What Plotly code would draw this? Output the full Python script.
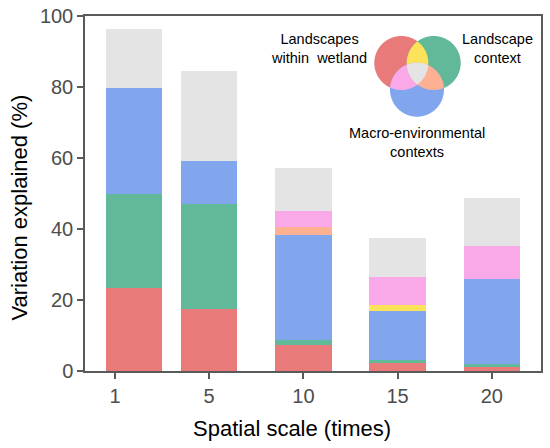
import numpy as np
import plotly.graph_objects as go

# spatial scale (times) and variation explained (%) per fraction
scales = ["1", "5", "10", "15", "20"]
within_wetland = [23.5, 17.6, 7.2, 2.3, 1.0]
landscape_context = [26.5, 29.4, 1.4, 0.9, 1.1]
macro_env = [29.7, 12.2, 29.7, 13.8, 23.9]
within_x_context = [0, 0, 0, 1.5, 0]
context_x_macro = [0, 0, 2.3, 0, 0]
within_x_macro = [0, 0, 4.4, 8.0, 9.1]
all_three = [16.5, 25.4, 12.3, 11.1, 13.5]

RED = "#E87B79"
GREEN = "#61B99A"
BLUE = "#82A6EE"
YELLOW = "#FCE35A"
ORANGE = "#FDB092"
PINK = "#F9A9E8"
GREY = "#E4E4E4"

FONT = "Arial, Liberation Sans, sans-serif"

series = [
    (within_wetland, RED),
    (landscape_context, GREEN),
    (macro_env, BLUE),
    (within_x_context, YELLOW),
    (context_x_macro, ORANGE),
    (within_x_macro, PINK),
    (all_three, GREY),
]

fig = go.Figure()
for vals, col in series:
    fig.add_trace(go.Bar(
        x=scales, y=vals,
        marker=dict(color=col, line=dict(width=0)),
        width=0.6,
        offset=[-0.1, -0.3, -0.3, -0.3, -0.3],  # first bar sits right of its tick in the original
        showlegend=False,
    ))

# plot area in pixels
W, H = 550, 448
L, R, T, B = 85, 541, 16, 371


def to_paper(px, py):
    return (px - L) / (R - L), (B - py) / (B - T)


def circle_pts(cx, cy, r, n=720):
    a = np.linspace(0, 2 * np.pi, n, endpoint=False)
    return np.c_[cx + r * np.cos(a), cy + r * np.sin(a)]


def inside(p, c):
    return np.hypot(p[:, 0] - c[0], p[:, 1] - c[1]) <= c[2] + 1e-9


def region(circs, all_pts):
    pts = []
    for i in range(len(circs)):
        p = all_pts[i]
        m = np.ones(len(p), bool)
        for j, o in enumerate(circs):
            if j != i:
                m &= inside(p, o)
        pts.append(p[m])
    pts = np.vstack(pts)
    ctr = pts.mean(axis=0)
    ang = np.arctan2(pts[:, 1] - ctr[1], pts[:, 0] - ctr[0])
    return pts[np.argsort(ang)]


def path_of(pts):
    s = []
    for k, (px, py) in enumerate(pts):
        x, y = to_paper(px, py)
        s.append(("M" if k == 0 else "L") + f"{x:.5f},{y:.5f}")
    return " ".join(s) + " Z"


rad = 27
c_red = (401.3, 63.0, rad)
c_green = (433.7, 63.0, rad)
c_blue = (417.0, 89.7, rad)


def add_region(circs, col):
    pts = [circle_pts(*c) for c in circs]
    poly = pts[0] if len(circs) == 1 else region(circs, pts)
    fig.add_shape(type="path", xref="paper", yref="paper", path=path_of(poly),
                  fillcolor=col, line=dict(width=0), layer="above")


add_region([c_red], RED)
add_region([c_green], GREEN)
add_region([c_blue], BLUE)
add_region([c_red, c_green], YELLOW)
add_region([c_red, c_blue], PINK)
add_region([c_green, c_blue], ORANGE)
add_region([c_red, c_green, c_blue], GREY)

for txt, px, py in [
    ("Landscapes<br>within  wetland", 319, 48),
    ("Landscape<br>context", 497, 48),
    ("Macro-environmental<br>contexts", 417, 142),
]:
    x, y = to_paper(px, py)
    fig.add_annotation(x=x, y=y, xref="paper", yref="paper", text=txt,
                       showarrow=False, xanchor="center", yanchor="middle",
                       font=dict(family=FONT, size=14.5, color="black"))

# axis titles
x, y = to_paper(19, 207.5)
fig.add_annotation(x=x, y=y, xref="paper", yref="paper", text="Variation explained (%)",
                   textangle=-90, showarrow=False, xanchor="center", yanchor="middle",
                   font=dict(family=FONT, size=22, color="black"))
x, y = to_paper(291.7, 428)
fig.add_annotation(x=x, y=y, xref="paper", yref="paper", text="Spatial scale (times)",
                   showarrow=False, xanchor="center", yanchor="middle",
                   font=dict(family=FONT, size=22, color="black"))

axis_line = dict(showline=True, linecolor="#5a5a5a", linewidth=1.5, mirror=True,
                 ticks="outside", ticklen=6, tickwidth=1.5, tickcolor="#5a5a5a",
                 showgrid=False, zeroline=False, automargin=False,
                 ticklabeloverflow="allow",
                 tickfont=dict(family=FONT, size=20, color="#4D4D4D"))

fig.update_xaxes(type="category", range=[-0.318, 4.522], **axis_line)
fig.update_yaxes(range=[0, 100], tickvals=[0, 20, 40, 60, 80, 100], **axis_line)

fig.update_layout(
    barmode="stack",
    width=W, height=H,
    margin=dict(l=L, r=W - R, t=T, b=H - B, pad=0),
    plot_bgcolor="white", paper_bgcolor="white",
)

# drop the page's default body margin so the figure sits at the window corner
fig.write_html("out.html", config={"displayModeBar": False},
               post_script="document.body.style.margin='0';")
